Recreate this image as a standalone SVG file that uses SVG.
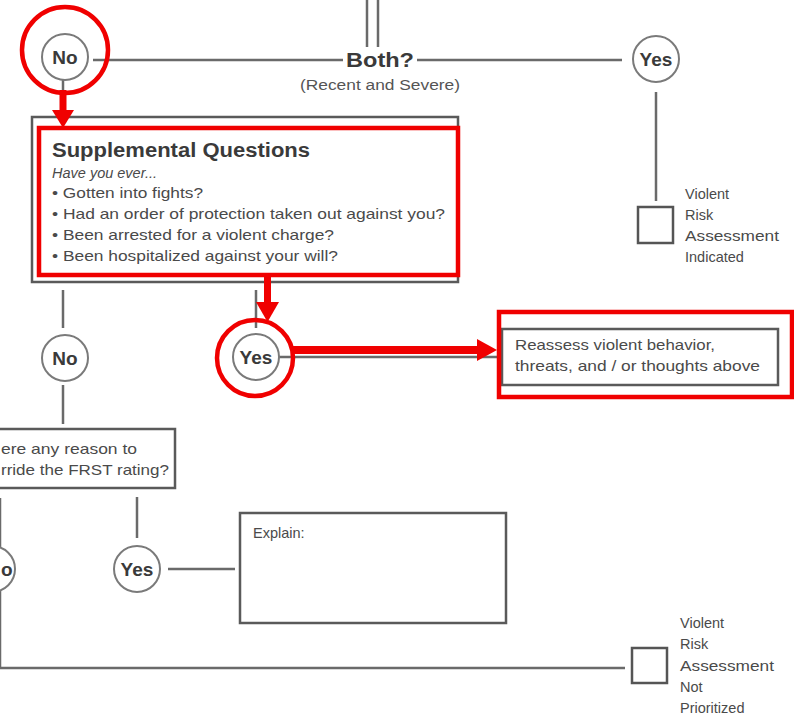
<svg xmlns="http://www.w3.org/2000/svg" width="794" height="721" viewBox="0 0 794 721">
<style>
.ln{stroke:#6a6a6a;stroke-width:2.5;fill:none}
.circ{fill:#fff;stroke:#7a7a7a;stroke-width:2}
.box{fill:#fff;stroke:#5a5a5a;stroke-width:2.5}
.yn{font-family:"Liberation Sans",Arial,sans-serif;font-weight:bold;font-size:19px;fill:#3a3a3a;text-anchor:middle}
.t{font-family:"Liberation Sans",Arial,sans-serif;font-size:14.5px;fill:#4a4a4a}
.red{fill:none;stroke:#f00000;stroke-width:4.5}
.redf{fill:#f00000}
</style>
<rect width="794" height="721" fill="#fff"/>
<g id="connectors">
  <line class="ln" x1="367" y1="0" x2="367" y2="47"/>
  <line class="ln" x1="378" y1="0" x2="378" y2="47"/>
  <line class="ln" x1="93" y1="60" x2="343" y2="60"/>
  <line class="ln" x1="417" y1="60" x2="622" y2="60"/>
  <line class="ln" x1="656" y1="92" x2="656" y2="201"/>
  <line class="ln" x1="63" y1="80" x2="63" y2="90"/>
  <line class="ln" x1="63" y1="290" x2="63" y2="328"/>
  <line class="ln" x1="256" y1="290" x2="256" y2="328"/>
  <line class="ln" x1="63" y1="385" x2="63" y2="424"/>
  <line class="ln" x1="278" y1="357" x2="502" y2="357"/>
  <line class="ln" x1="137" y1="497" x2="137" y2="538"/>
  <line class="ln" x1="168" y1="569" x2="235" y2="569"/>
  <line class="ln" x1="0" y1="498" x2="0" y2="668"/>
  <line class="ln" x1="0" y1="668" x2="625" y2="668"/>
</g>
<g id="node-no-top">
  <circle class="circ" cx="65" cy="57" r="23"/>
  <text class="yn" x="65" y="64">No</text>
</g>
<g id="node-both">
  <text x="380" y="67" font-family="Liberation Sans,Arial,sans-serif" font-weight="bold" font-size="20" fill="#3a3a3a" text-anchor="middle" textLength="68" lengthAdjust="spacingAndGlyphs">Both?</text>
  <text x="380" y="90" font-family="Liberation Sans,Arial,sans-serif" font-size="14" fill="#555" text-anchor="middle" textLength="160" lengthAdjust="spacingAndGlyphs">(Recent and Severe)</text>
</g>
<g id="node-yes-top">
  <circle class="circ" cx="656" cy="59" r="23"/>
  <text class="yn" x="656" y="66">Yes</text>
</g>
<g id="node-indicated">
  <rect x="638" y="207" width="35" height="36" fill="#fff" stroke="#555" stroke-width="2.5"/>
  <text class="t" x="685" y="199">Violent</text>
  <text class="t" x="685" y="220">Risk</text>
  <text class="t" x="685" y="241" textLength="94" lengthAdjust="spacingAndGlyphs">Assessment</text>
  <text class="t" x="685" y="262">Indicated</text>
</g>
<g id="node-supplemental">
  <rect class="box" x="32" y="117" width="426" height="165"/>
  <text x="52" y="157" font-family="Liberation Sans,Arial,sans-serif" font-weight="bold" font-size="20" fill="#3a3a3a" textLength="258" lengthAdjust="spacingAndGlyphs">Supplemental Questions</text>
  <text class="t" x="52" y="178" font-style="italic" fill="#666">Have you ever...</text>
  <text class="t" x="52" y="198" textLength="151" lengthAdjust="spacingAndGlyphs">• Gotten into fights?</text>
  <text class="t" x="52" y="219" textLength="393" lengthAdjust="spacingAndGlyphs">• Had an order of protection taken out against you?</text>
  <text class="t" x="52" y="240" textLength="282" lengthAdjust="spacingAndGlyphs">• Been arrested for a violent charge?</text>
  <text class="t" x="52" y="261" textLength="286" lengthAdjust="spacingAndGlyphs">• Been hospitalized against your will?</text>
</g>
<g id="node-no-mid">
  <circle class="circ" cx="65" cy="358" r="23"/>
  <text class="yn" x="65" y="365">No</text>
</g>
<g id="node-yes-mid">
  <circle class="circ" cx="256" cy="357" r="23"/>
  <text class="yn" x="256" y="364">Yes</text>
</g>
<g id="node-reassess">
  <rect class="box" x="502" y="329" width="276" height="56"/>
  <text class="t" x="515" y="350" textLength="200" lengthAdjust="spacingAndGlyphs">Reassess violent behavior,</text>
  <text class="t" x="515" y="371" textLength="245" lengthAdjust="spacingAndGlyphs">threats, and / or thoughts above</text>
</g>
<g id="node-frst">
  <rect class="box" x="-10" y="429" width="185" height="59"/>
  <text class="t" x="1" y="454" textLength="136" lengthAdjust="spacingAndGlyphs">ere any reason to</text>
  <text class="t" x="1" y="475" textLength="168" lengthAdjust="spacingAndGlyphs">rride the FRST rating?</text>
</g>
<g id="node-no-bottom">
  <circle class="circ" cx="-8" cy="569" r="23"/>
  <text class="yn" x="1" y="576" style="text-anchor:start">o</text>
</g>
<g id="node-yes-bottom">
  <circle class="circ" cx="137" cy="569" r="23"/>
  <text class="yn" x="137" y="576">Yes</text>
</g>
<g id="node-explain">
  <rect class="box" x="240" y="513" width="266" height="110"/>
  <text class="t" x="253" y="538" fill="#555">Explain:</text>
</g>
<g id="node-not-prioritized">
  <rect x="632" y="648" width="35" height="35" fill="#fff" stroke="#555" stroke-width="2.5"/>
  <text class="t" x="680" y="628">Violent</text>
  <text class="t" x="680" y="649">Risk</text>
  <text class="t" x="680" y="671" textLength="94" lengthAdjust="spacingAndGlyphs">Assessment</text>
  <text class="t" x="680" y="692">Not</text>
  <text class="t" x="680" y="713">Prioritized</text>
</g>
<g id="highlights">
  <circle class="red" cx="65" cy="50" r="43"/>
  <rect class="redf" x="59.5" y="90" width="7" height="21"/>
  <polygon class="redf" points="52,110 74,110 63,128"/>
  <rect class="red" x="39" y="128" width="419" height="147"/>
  <rect class="redf" x="264" y="275" width="7" height="28"/>
  <polygon class="redf" points="256,302 279,302 267.5,322"/>
  <circle class="red" cx="255" cy="358" r="38"/>
  <rect class="redf" x="293" y="346" width="186" height="8"/>
  <polygon class="redf" points="477,339 477,361 497,350"/>
  <rect class="red" x="499" y="312" width="293" height="85"/>
</g>
</svg>
